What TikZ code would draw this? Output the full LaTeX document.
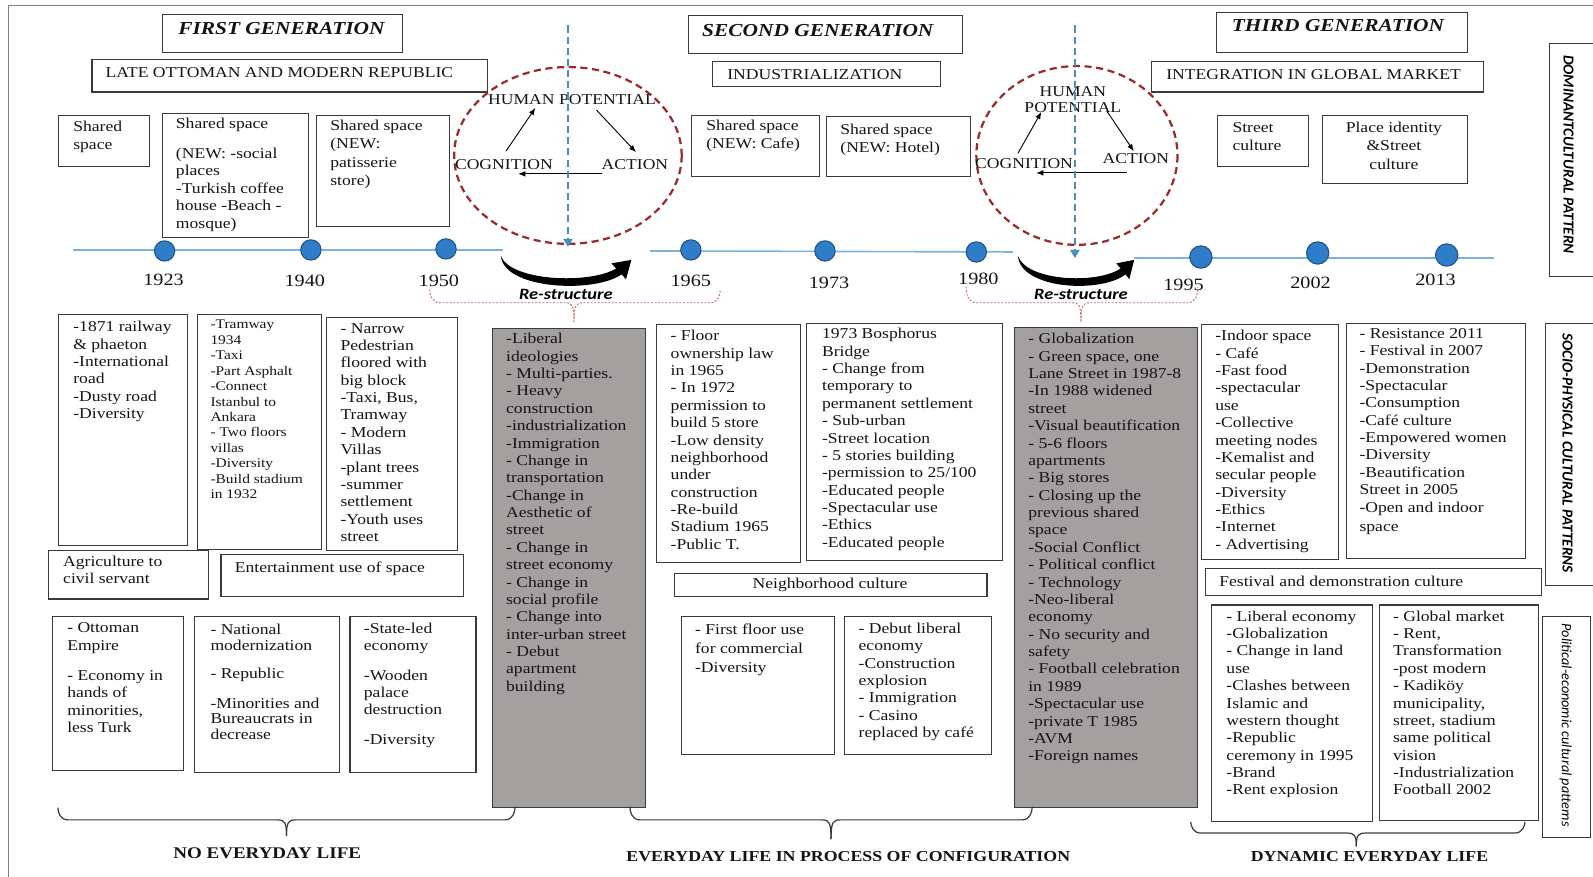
\documentclass[tikz,border=0pt]{standalone}
\usepackage{fontspec}
\setmainfont{Liberation Serif}[FakeStretch=1.17]
\newfontfamily\calibs{Carlito}[FakeStretch=1.17]
\newfontfamily\calibn{Carlito}
\usetikzlibrary{arrows.meta}
\definecolor{boxc}{HTML}{3A3A3A}
\definecolor{txtc}{HTML}{141414}
\definecolor{grayfill}{HTML}{A5A0A0}
\definecolor{tlblue}{HTML}{7FB2D8}
\definecolor{dotfill}{HTML}{2F7CC8}
\definecolor{dotline}{HTML}{1F4F86}
\definecolor{vblue}{HTML}{4A8DBF}
\definecolor{ellred}{HTML}{9A2A2C}
\definecolor{brred}{HTML}{C06A6A}
\definecolor{framec}{HTML}{808080}
\tikzset{
 bx/.style={draw=boxc, line width=1.1pt, inner sep=0pt, anchor=north west},
 gbx/.style={bx, fill=grayfill},
 tx/.style={text=txtc, font=\fontsize{14.8}{17.1}\selectfont, align=left, anchor=north west, inner sep=0pt, execute at begin node=\strut},
 txss/.style={tx, font=\fontsize{14.8}{18}\selectfont},
 txs/.style={tx, font=\fontsize{13}{15.2}\selectfont},
 ctx/.style={text=txtc, font=\fontsize{14.8}{17.1}\selectfont, inner sep=0pt},
 genlbl/.style={text=txtc, font=\fontsize{18}{21}\selectfont\bfseries\itshape, inner sep=0pt},
 sidelbl/.style={text=black, rotate=-90, inner sep=0pt},
 yrlbl/.style={text=txtc, font=\fontsize{17}{20}\selectfont, inner sep=0pt},
 yrdot/.style={circle, fill=dotfill, draw=dotline, line width=1pt, minimum size=20pt, inner sep=0pt},
 tline/.style={draw=tlblue, line width=1.6pt},
 vdash/.style={draw=vblue, line width=2.6pt, dash pattern=on 7pt off 4pt, -{Triangle[length=8pt,width=9pt]}},
 elldash/.style={draw=ellred, line width=2.2pt, dash pattern=on 7pt off 4.5pt},
 hplbl/.style={text=txtc, font=\fontsize{14.8}{16}\selectfont, inner sep=1pt, align=center},
 cyc/.style={draw=black, line width=0.9pt, -{Latex[length=7pt,width=5.5pt]}},
 brk/.style={draw=brred, line width=0.9pt, dash pattern=on 2pt off 1.5pt},
 bracep/.style={draw=boxc, line width=1.2pt},
 rlabel/.style={text=black, font=\calibs\fontsize{15.5}{18}\selectfont\bfseries\itshape, inner sep=0pt},
 lowlbl/.style={text=txtc, font=\fontsize{15}{18}\selectfont\bfseries, inner sep=0pt},
 restr/.pic={
  \fill[black] (0,0) .. controls (3,33) and (92,37) .. (119,18) -- (114,12) .. controls (88,28) and (10,25) .. cycle;
  \fill[black] (108.8,7.2) -- (128.5,3.8) -- (123.2,22.8) -- cycle;
 }
}
\newcommand\mybrace[8]{%
 \draw[#1] (#2,#3) .. controls (#2,#4-8) and (#2+2,#4) .. (#2+10,#4) -- (#5-9,#4) .. controls (#5-2,#4) and (#5,#4+2) .. (#5,#6);
 \draw[#1] (#5,#6) .. controls (#5,#4+2) and (#5+2,#4) .. (#5+9,#4) -- (#7-10,#4) .. controls (#7-2,#4) and (#7,#4-8) .. (#7,#8);}
\begin{document}
\begin{tikzpicture}[x=1pt,y=-1pt]
\useasboundingbox (0,0) rectangle (1568,863);
\draw[framec, line width=1pt] (8,863) -- (8,5) -- (1568,5);

% ---------- top titles
\node[bx, minimum width=237, minimum height=37] (bgen1) at (159,14) {};
\node[genlbl] (tgen1) at (277,28) {FIRST GENERATION};
\node[bx, minimum width=389, minimum height=32] (blate) at (90,58) {};
\node[ctx] (tlate) at (275,71) {LATE OTTOMAN AND MODERN REPUBLIC};
\node[bx, minimum width=270, minimum height=37] (bgen2) at (677,15) {};
\node[genlbl] (tgen2) at (805,30) {SECOND GENERATION};
\node[bx, minimum width=224, minimum height=25] (bind) at (701,60) {};
\node[ctx] (tind) at (802,73) {INDUSTRIALIZATION};
\node[bx, minimum width=247, minimum height=39] (bgen3) at (1197,12) {};
\node[genlbl] (tgen3) at (1317,25) {THIRD GENERATION};
\node[bx, minimum width=327, minimum height=30] (binteg) at (1133,60) {};
\node[ctx] (tinteg) at (1293,73) {INTEGRATION IN GLOBAL MARKET};

% ---------- side labels
\node[bx, minimum width=50, minimum height=230] (bdom) at (1525,42) {};
\node[sidelbl, font=\calibn\fontsize{15}{18}\selectfont\bfseries\itshape] (tdom) at (1544,152) {DOMINANTCULTURAL PATTERN};
\node[bx, minimum width=54, minimum height=258] (bsocio) at (1521,318) {};
\node[sidelbl, font=\calibn\fontsize{15}{18}\selectfont\bfseries\itshape] (tsocio) at (1543,446) {SOCIO-PHYSICAL CULTURAL PATTERNS};
\node[bx, minimum width=47, minimum height=218] (bpol) at (1518,606) {};
\node[sidelbl, font=\calibn\fontsize{14}{17}\selectfont\itshape] (tpol) at (1541,714) {Political-economic cultural patterns};

% ---------- timeline
\coordinate (tl1a) at (72,246); \coordinate (tl1b) at (495,246);
\coordinate (tl2a) at (640,247); \coordinate (tl2b) at (997,248);
\coordinate (tl3a) at (1116,254); \coordinate (tl3b) at (1471,254);
\draw[tline] (tl1a) -- (tl1b);
\draw[tline] (tl2a) -- (tl2b);
\draw[tline] (tl3a) -- (tl3b);
\node[yrdot] (d1923) at (162,247) {};
\node[yrdot] (d1940) at (306,246) {};
\node[yrdot] (d1950) at (439,245) {};
\node[yrdot] (d1965) at (680,246) {};
\node[yrdot] (d1973) at (812,247) {};
\node[yrdot] (d1980) at (961,248) {};
\node[yrdot, minimum size=22pt] (d1995) at (1182,253) {};
\node[yrdot, minimum size=22pt] (d2002) at (1297,249) {};
\node[yrdot, minimum size=22pt] (d2013) at (1424,251) {};
\node[yrlbl] (y1923) at (161,275) {1923};
\node[yrlbl] (y1940) at (300,276) {1940};
\node[yrlbl] (y1950) at (432,276) {1950};
\node[yrlbl] (y1965) at (680,276) {1965};
\node[yrlbl] (y1973) at (816,278) {1973};
\node[yrlbl] (y1980) at (963,274) {1980};
\node[yrlbl] (y1995) at (1165,280) {1995};
\node[yrlbl] (y2002) at (1290,278) {2002};
\node[yrlbl] (y2013) at (1413,275) {2013};

% ---------- shared space boxes
\node[bx, minimum width=90, minimum height=50] (bss1) at (57,113) {};
\node[txss] (tss1) at (72,119) {Shared\\space};
\node[bx, minimum width=144, minimum height=122] (bss2) at (159,111) {};
\node[tx] (tss2) at (173,116) {Shared space\\[12.5pt](NEW: -social\\places\\-Turkish coffee\\house -Beach -\\mosque)};
\node[bx, minimum width=131, minimum height=109] (bss3) at (311,113) {};
\node[txss] (tss3) at (325,118) {Shared space\\(NEW:\\patisserie\\store)};
\node[bx, minimum width=126, minimum height=60] (bcafe) at (680,113) {};
\node[txss] (tcafe) at (695,118) {Shared space\\(NEW: Cafe)};
\node[bx, minimum width=142, minimum height=59] (bhotel) at (813,114) {};
\node[txss] (thotel) at (827,122) {Shared space\\(NEW: Hotel)};
\node[bx, minimum width=89, minimum height=50] (bstreet) at (1198,113) {};
\node[txss] (tstreet) at (1213,120) {Street\\culture};
\node[bx, minimum width=143, minimum height=67] (bplace) at (1301,113) {};
\node[txss, align=center, anchor=north] (tplace) at (1372,120) {Place identity\\\&Street\\culture};

% ---------- human potential cycles
\draw[elldash] (559,153) ellipse [x radius=112, y radius=87];
\node[hplbl] (hum1) at (563,98) {HUMAN POTENTIAL};
\node[hplbl] (cog1) at (496,162) {COGNITION};
\node[hplbl] (act1) at (625,162) {ACTION};
\draw[cyc] ([shift={(2,-7)}]cog1.north) -- ([shift={(-36,2)}]hum1.south);
\draw[cyc] ([shift={(24,4)}]hum1.south) -- ([shift={(1,-6)}]act1.north);
\draw[cyc] ([shift={(1,3)}]act1.south west) -- ([shift={(14,3)}]cog1.south);

\draw[elldash] (1060,153) ellipse [x radius=99, y radius=88];
\node[hplbl] (hum2) at (1056,98) {HUMAN\\POTENTIAL};
\node[hplbl] (cog2) at (1008,161) {COGNITION};
\node[hplbl] (act2) at (1118,156) {ACTION};
\draw[cyc] ([shift={(-6,-4)}]cog2.north) -- ([shift={(-31,-2)}]hum2.south);
\draw[cyc] ([shift={(34,-2)}]hum2.south) -- ([shift={(-2,-1)}]act2.north);
\draw[cyc] ([shift={(-9,8)}]act2.south) -- ([shift={(12,3)}]cog2.south);

\coordinate (v1a) at (559,25); \coordinate (v1b) at (559,243);
\coordinate (v2a) at (1058,25); \coordinate (v2b) at (1058,254);
\draw[vdash] (v1a) -- (v1b);
\draw[vdash] (v2a) -- (v2b);

% ---------- restructure arrows
\pic at (493,252) {restr};
\pic[xscale=0.89] at (1002,252) {restr};
\node[rlabel] (lrs1) at (557,290) {Re-structure};
\node[rlabel] (lrs2) at (1064,290) {Re-structure};
\mybrace{brk}{423}{285}{298}{565}{317}{709}{285}
\mybrace{brk}{951}{282}{298}{1064}{317}{1179}{282}

% ---------- socio-physical row
\node[bx, minimum width=127, minimum height=227] (bA) at (57,309) {};
\node[tx] (tA) at (72,316) {-1871 railway\\\& phaeton\\-International\\road\\-Dusty road\\-Diversity};
\node[bx, minimum width=122, minimum height=231] (bB) at (194,309) {};
\node[txs] (tB) at (207,315) {-Tramway\\1934\\-Taxi\\-Part Asphalt\\-Connect\\Istanbul to\\Ankara\\- Two floors\\villas\\-Diversity\\-Build stadium\\in 1932};
\node[bx, minimum width=129, minimum height=229] (bC) at (321,312) {};
\node[tx] (tC) at (335,318) {- Narrow\\Pedestrian\\floored with\\big block\\-Taxi, Bus,\\Tramway\\- Modern\\Villas\\-plant trees\\-summer\\settlement\\-Youth uses\\street};
\node[bx, minimum width=158, minimum height=48] (bagri) at (47,541) {};
\node[tx] (tagri) at (62,547) {Agriculture to\\civil servant};
\node[bx, minimum width=239, minimum height=42] (bent) at (217,545) {};
\node[tx] (tent) at (231,551) {Entertainment use of space};

\node[gbx, minimum width=151, minimum height=471] (bg1) at (484,323) {};
\node[tx] (tg1) at (498,328) {-Liberal\\ideologies\\- Multi-parties.\\- Heavy\\construction\\-industrialization\\-Immigration\\- Change in\\transportation\\-Change in\\Aesthetic of\\street\\- Change in\\street economy\\- Change in\\social profile\\- Change into\\inter-urban street\\- Debut\\apartment\\building};
\node[bx, minimum width=141, minimum height=234] (bfloor) at (646,319) {};
\node[tx] (tfloor) at (660,325) {- Floor\\ownership law\\in 1965\\- In 1972\\permission to\\build 5 store\\-Low density\\neighborhood\\under\\construction\\-Re-build\\Stadium 1965\\-Public T.};
\node[bx, minimum width=193, minimum height=233] (bbos) at (793,318) {};
\node[tx] (tbos) at (809,323) {1973 Bosphorus\\Bridge\\- Change from\\temporary to\\permanent settlement\\- Sub-urban\\-Street location\\- 5 stories building\\-permission to 25/100\\-Educated people\\-Spectacular use\\-Ethics\\-Educated people};
\node[bx, minimum width=308, minimum height=23] (bneigh) at (663,564) {};
\node[ctx] (tneigh) at (817,576) {Neighborhood culture};

\node[gbx, minimum width=180, minimum height=472] (bg2) at (998,322) {};
\node[tx] (tg2) at (1012,328) {- Globalization\\- Green space, one\\Lane Street in 1987-8\\-In 1988 widened\\street\\-Visual beautification\\- 5-6 floors\\apartments\\- Big stores\\- Closing up the\\previous shared\\space\\-Social Conflict\\- Political conflict\\- Technology\\-Neo-liberal\\economy\\- No security and\\safety\\- Football celebration\\in 1989\\-Spectacular use\\-private T 1985\\-AVM\\-Foreign names};
\node[bx, minimum width=135, minimum height=231] (bindoor) at (1182,319) {};
\node[tx] (tindoor) at (1196,325) {-Indoor space\\- Café\\-Fast food\\-spectacular\\use\\-Collective\\meeting nodes\\-Kemalist and\\secular people\\-Diversity\\-Ethics\\-Internet\\- Advertising};
\node[bx, minimum width=176, minimum height=231] (bres) at (1325,318) {};
\node[tx] (tres) at (1338,323) {- Resistance 2011\\- Festival in 2007\\-Demonstration\\-Spectacular\\-Consumption\\-Café culture\\-Empowered women\\-Diversity\\-Beautification\\Street in 2005\\-Open and indoor\\[2pt]space};
\node[bx, minimum width=331, minimum height=27] (bfest) at (1186,559) {};
\node[ctx, anchor=west] (tfest) at (1200,572) {Festival and demonstration culture};

% ---------- political-economic row
\node[bx, minimum width=129, minimum height=152] (bott) at (51,606) {};
\node[tx, font=\fontsize{14.8}{17}\selectfont] (tott) at (66,613) {- Ottoman\\Empire\\[13pt]- Economy in\\hands of\\minorities,\\less Turk};
\node[bx, minimum width=143, minimum height=154] (bnat) at (191,606) {};
\node[tx, font=\fontsize{14.8}{15.5}\selectfont] (tnat) at (207,614) {- National\\modernization\\[12.5pt]- Republic\\[13.5pt]-Minorities and\\Bureaucrats in\\decrease};
\node[bx, minimum width=124, minimum height=154] (bstate) at (344,606) {};
\node[tx, font=\fontsize{14.8}{17}\selectfont] (tstate) at (358,613) {-State-led\\economy\\[12pt]-Wooden\\palace\\destruction\\[12pt]-Diversity};
\node[bx, minimum width=151, minimum height=136] (bfirst) at (670,606) {};
\node[tx, font=\fontsize{14.8}{18.5}\selectfont] (tfirst) at (684,614) {- First floor use\\for commercial\\-Diversity};
\node[bx, minimum width=144, minimum height=136] (bdebut) at (831,606) {};
\node[tx] (tdebut) at (845,613) {- Debut liberal\\economy\\-Construction\\explosion\\- Immigration\\- Casino\\replaced by café};
\node[bx, minimum width=158, minimum height=213] (blib) at (1192,595) {};
\node[tx] (tlib) at (1207,601) {- Liberal economy\\-Globalization\\- Change in land\\use\\-Clashes between\\Islamic and\\western thought\\-Republic\\ceremony in 1995\\-Brand\\-Rent explosion};
\node[bx, minimum width=157, minimum height=212] (bglob) at (1357,595) {};
\node[tx] (tglob) at (1371,601) {- Global market\\- Rent,\\Transformation\\-post modern\\- Kadiköy\\municipality,\\street, stadium\\same political\\vision\\-Industrialization\\Football 2002};

% ---------- braces and bottom labels
\mybrace{bracep}{57}{795}{807}{282}{823}{507}{794}
\mybrace{bracep}{620}{794}{807}{818}{826}{1016}{794}
\mybrace{bracep}{1172}{809}{820}{1335}{833}{1501}{809}
\node[lowlbl, font=\fontsize{16}{19}\selectfont\bfseries] (lno) at (263,840) {NO EVERYDAY LIFE};
\node[lowlbl] (lproc) at (835,843) {EVERYDAY LIFE IN PROCESS OF CONFIGURATION};
\node[lowlbl] (ldyn) at (1348,843) {DYNAMIC EVERYDAY LIFE};
\end{tikzpicture}
\end{document}
